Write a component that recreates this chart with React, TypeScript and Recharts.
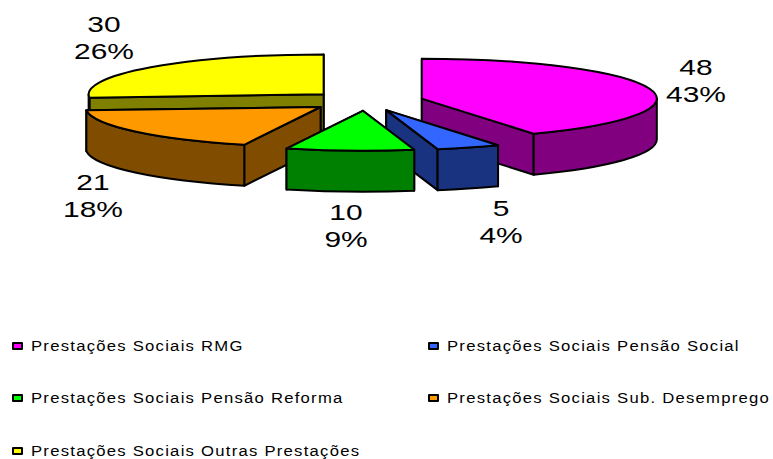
import React from "react";
import { PieChart, Pie, Legend } from "recharts";

const categories = [
  "Prestações Sociais RMG",
  "Prestações Sociais Pensão Social",
  "Prestações Sociais Pensão Reforma",
  "Prestações Sociais Sub. Desemprego",
  "Prestações Sociais Outras Prestações",
];
const values = [48, 5, 10, 21, 30];
const percentLabels = ["43%", "4%", "9%", "18%", "26%"];

const topColors = ["#FF00FF", "#3366FF", "#00FF00", "#FF9900", "#FFFF00"];
const sideColors = ["#800080", "#1A3380", "#008000", "#804D00", "#808000"];

// painter's order: back slices first
const drawOrder = [4, 3, 0, 1, 2];
// label centre relative to the pie centre
const labelOffsets = [
  [330, -21],
  [135, 120],
  [-20, 124],
  [-273, 94],
  [-262, -64],
];

const rows = categories.map((name, i) => ({ name, value: values[i] }));

const SQUASH = 0.17;
const DEPTH = 41;
const EXPLODE = 0.245;
const RAD = Math.PI / 180;

function Slice3D(props: any) {
  const { cx, cy, outerRadius, startAngle, endAngle, fill, side } = props;
  const rx = outerRadius;
  const ry = outerRadius * SQUASH;
  // t = clockwise from 12 o'clock
  const t0 = 90 - startAngle;
  const t1 = 90 - endAngle;
  const mid = (t0 + t1) / 2;
  const ox = cx + EXPLODE * rx * Math.sin(mid * RAD);
  const oy = cy - EXPLODE * ry * Math.cos(mid * RAD);
  const pt = (t: number) => [ox + rx * Math.sin(t * RAD), oy - ry * Math.cos(t * RAD)];
  const [ax, ay] = pt(t0);
  const [bx, by] = pt(t1);
  const large = t1 - t0 > 180 ? 1 : 0;

  const cutA = `M${ox},${oy}L${ax},${ay}L${ax},${ay + DEPTH}L${ox},${oy + DEPTH}Z`;
  const cutB = `M${ox},${oy}L${bx},${by}L${bx},${by + DEPTH}L${ox},${oy + DEPTH}Z`;
  const aFaces = Math.sin(t0 * RAD) < -1e-6;
  const bFaces = Math.sin(t1 * RAD) > 1e-6;

  // outer wall is only seen on the front half of the ellipse
  const f0 = Math.max(t0, 90);
  const f1 = Math.min(t1, 270);
  let wall = "";
  if (f1 > f0) {
    const [wx0, wy0] = pt(f0);
    const [wx1, wy1] = pt(f1);
    wall =
      `M${wx0},${wy0}A${rx},${ry} 0 0 1 ${wx1},${wy1}` +
      `L${wx1},${wy1 + DEPTH}A${rx},${ry} 0 0 0 ${wx0},${wy0 + DEPTH}Z`;
  }
  const top = `M${ox},${oy}L${ax},${ay}A${rx},${ry} 0 ${large} 1 ${bx},${by}Z`;
  const line = { stroke: "#000", strokeWidth: 2, strokeLinejoin: "round" as const };

  return (
    <g>
      {!aFaces && <path d={cutA} fill={side} {...line} />}
      {!bFaces && <path d={cutB} fill={side} {...line} />}
      {aFaces && <path d={cutA} fill={side} {...line} />}
      {bFaces && <path d={cutB} fill={side} {...line} />}
      {wall && <path d={wall} fill={side} {...line} />}
      <path d={top} fill={fill} {...line} />
    </g>
  );
}

function ValueLabel(props: any, idx: number) {
  const { cx, cy } = props;
  const [dx, dy] = labelOffsets[idx];
  const x = cx + dx;
  const y = cy + dy;
  const style = { fontFamily: "Liberation Sans", fontSize: 22, fill: "#000" };
  return (
    <g key={idx} transform={`translate(${x},${y}) scale(1.36,1)`}>
      <text textAnchor="middle" y={-5} style={style}>
        {values[idx]}
      </text>
      <text textAnchor="middle" y={22} style={style}>
        {percentLabels[idx]}
      </text>
    </g>
  );
}

function LegendBlock() {
  const cells = [
    { i: 0, left: 12, top: 337 },
    { i: 1, left: 428, top: 337 },
    { i: 2, left: 12, top: 389 },
    { i: 3, left: 428, top: 389 },
    { i: 4, left: 12, top: 442 },
  ];
  return (
    <div>
      {cells.map(({ i, left, top }) => (
        <div
          key={i}
          style={{
            position: "absolute",
            left,
            top,
            height: 18,
            display: "flex",
            alignItems: "center",
            whiteSpace: "nowrap",
            fontFamily: "Liberation Sans",
            fontSize: 14,
            letterSpacing: 1.05,
            color: "#000",
          }}
        >
          <span
            style={{
              display: "inline-block",
              width: 7,
              height: 4,
              marginRight: 8,
              background: topColors[i],
              border: "2px solid #000",
              borderRadius: 1,
            }}
          />
          <span style={{ display: "inline-block", transform: "scaleX(1.19)", transformOrigin: "left center" }}>
            {categories[i]}
          </span>
        </div>
      ))}
    </div>
  );
}

export default function App() {
  return (
    <div style={{ position: "absolute", left: 0, top: 0, width: 773, height: 459, background: "#fff" }}>
      <PieChart width={773} height={459} margin={{ top: 0, right: 0, bottom: 0, left: 0 }}>
        {drawOrder.map((idx) => (
          <Pie
            key={idx}
            data={rows}
            dataKey="value"
            nameKey="name"
            cx={366}
            cy={101}
            innerRadius={0}
            outerRadius={235}
            startAngle={90}
            endAngle={-270}
            stroke="none"
            isAnimationActive={false}
            labelLine={false}
            label={(p: any) => (p.index === idx ? ValueLabel(p, idx) : <g />)}
            shape={(p: any) =>
              (p.name ?? p.payload?.name) === categories[idx] ? (
                <Slice3D {...p} fill={topColors[idx]} side={sideColors[idx]} />
              ) : (
                <g />
              )
            }
          />
        ))}
        <Legend
          content={() => <LegendBlock />}
          wrapperStyle={{ position: "absolute", left: 0, top: 0, width: 773, height: 0 }}
        />
      </PieChart>
    </div>
  );
}
